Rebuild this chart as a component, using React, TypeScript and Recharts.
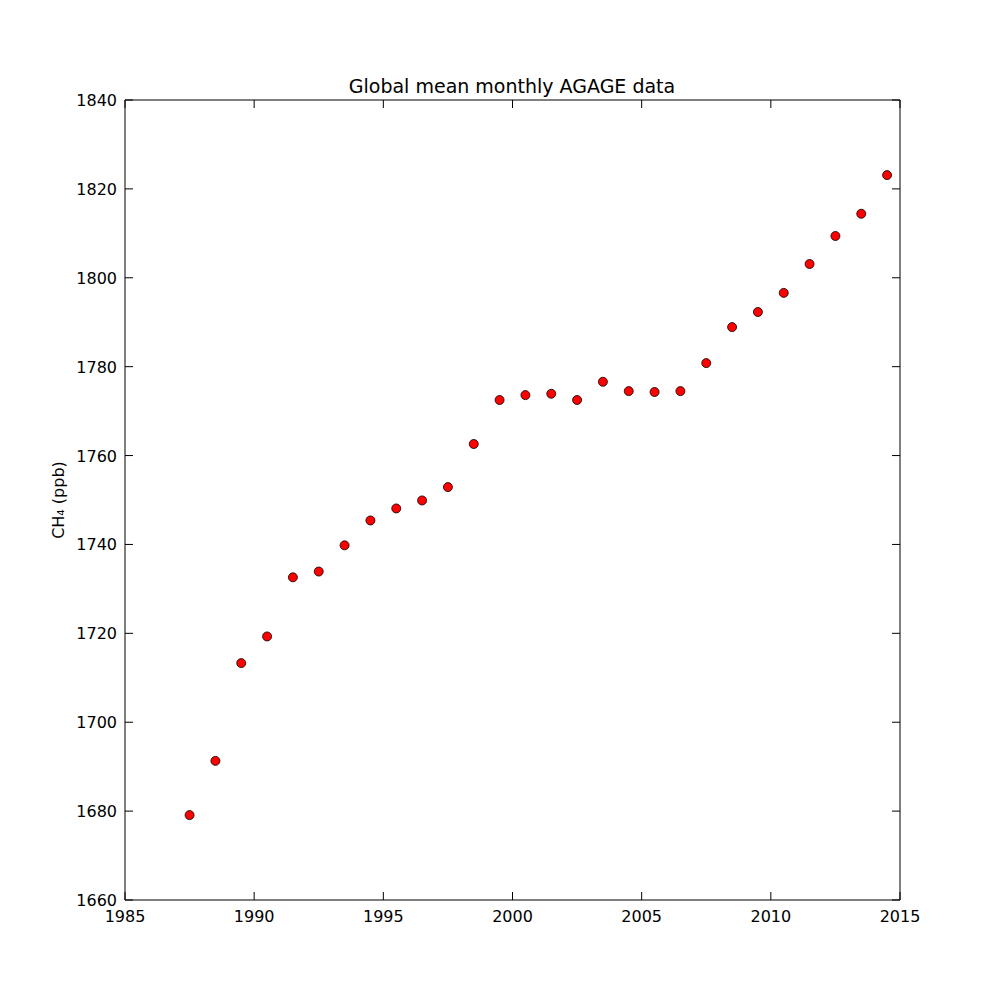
import React from 'react';
import { ScatterChart, Scatter, XAxis, YAxis } from 'recharts';

const years = [1987.5,1988.5,1989.5,1990.5,1991.5,1992.5,1993.5,1994.5,1995.5,1996.5,1997.5,1998.5,1999.5,2000.5,2001.5,2002.5,2003.5,2004.5,2005.5,2006.5,2007.5,2008.5,2009.5,2010.5,2011.5,2012.5,2013.5,2014.5];
const ch4 = [1679.1,1691.3,1713.3,1719.3,1732.6,1733.9,1739.8,1745.4,1748.1,1749.9,1752.9,1762.6,1772.5,1773.6,1773.9,1772.5,1776.6,1774.5,1774.3,1774.5,1780.8,1788.9,1792.3,1796.6,1803.1,1809.4,1814.4,1823.1];
const xTicks = [1985,1990,1995,2000,2005,2010,2015];
const yTicks = [1660,1680,1700,1720,1740,1760,1780,1800,1820,1840];

const data = years.map((y, i) => ({ x: y, y: ch4[i] }));
const M = 8;
const T = 8;
const txt = { fontFamily: 'DejaVu Sans', fontSize: 16, fill: '#000' };

const BottomTick = (p: any) => (
  <g>
    <line x1={p.x} x2={p.x} y1={p.y - M} y2={p.y - M - T} stroke="#000" />
    <text x={p.x} y={p.y} dy={14} textAnchor="middle" style={txt}>{p.payload.value}</text>
  </g>
);
const TopTick = (p: any) => (
  <line x1={p.x} x2={p.x} y1={p.y + M} y2={p.y + M + T} stroke="#000" />
);
const LeftTick = (p: any) => (
  <g>
    <line x1={p.x + M} x2={p.x + M + T} y1={p.y} y2={p.y} stroke="#000" />
    <text x={p.x} y={p.y} dy={6} textAnchor="end" style={txt}>{p.payload.value}</text>
  </g>
);
const RightTick = (p: any) => (
  <line x1={p.x - M} x2={p.x - M - T} y1={p.y} y2={p.y} stroke="#000" />
);

export default function App() {
  return (
    <div style={{ position: 'absolute', left: 0, top: 0, width: 1000, height: 1000, background: '#fff' }}>
      <ScatterChart width={1000} height={1000} margin={{ top: 99, right: 99, bottom: 70, left: 65 }}>
        <text x={512} y={93} textAnchor="middle" style={{ fontFamily: 'DejaVu Sans', fontSize: 19 }}>Global mean monthly AGAGE data</text>
        <text x={64} y={500} textAnchor="middle" transform="rotate(-90 64 500)" style={{ fontFamily: 'DejaVu Sans', fontSize: 16 }}>CH₄ (ppb)</text>
        <XAxis xAxisId="b" type="number" dataKey="x" domain={[1985, 2015]} ticks={xTicks} height={30}
          stroke="#000" tickLine={false} tickSize={0} tickMargin={M} tick={BottomTick} interval={0} allowDataOverflow />
        <XAxis xAxisId="t" orientation="top" type="number" dataKey="x" domain={[1985, 2015]} ticks={xTicks} height={1}
          stroke="#000" tickLine={false} tickSize={0} tickMargin={M} tick={TopTick} interval={0} allowDataOverflow />
        <YAxis yAxisId="l" type="number" dataKey="y" domain={[1660, 1840]} ticks={yTicks} width={60}
          stroke="#000" tickLine={false} tickSize={0} tickMargin={M} tick={LeftTick} interval={0} allowDataOverflow />
        <YAxis yAxisId="r" orientation="right" type="number" dataKey="y" domain={[1660, 1840]} ticks={yTicks} width={1}
          stroke="#000" tickLine={false} tickSize={0} tickMargin={M} tick={RightTick} interval={0} allowDataOverflow />
        <Scatter xAxisId="b" yAxisId="l" data={data} fill="#ff0000" isAnimationActive={false}
          shape={(p: any) => <circle cx={p.cx} cy={p.cy} r={4.5} fill="#ff0000" stroke="#000" strokeWidth={0.8} />} />
      </ScatterChart>
    </div>
  );
}
